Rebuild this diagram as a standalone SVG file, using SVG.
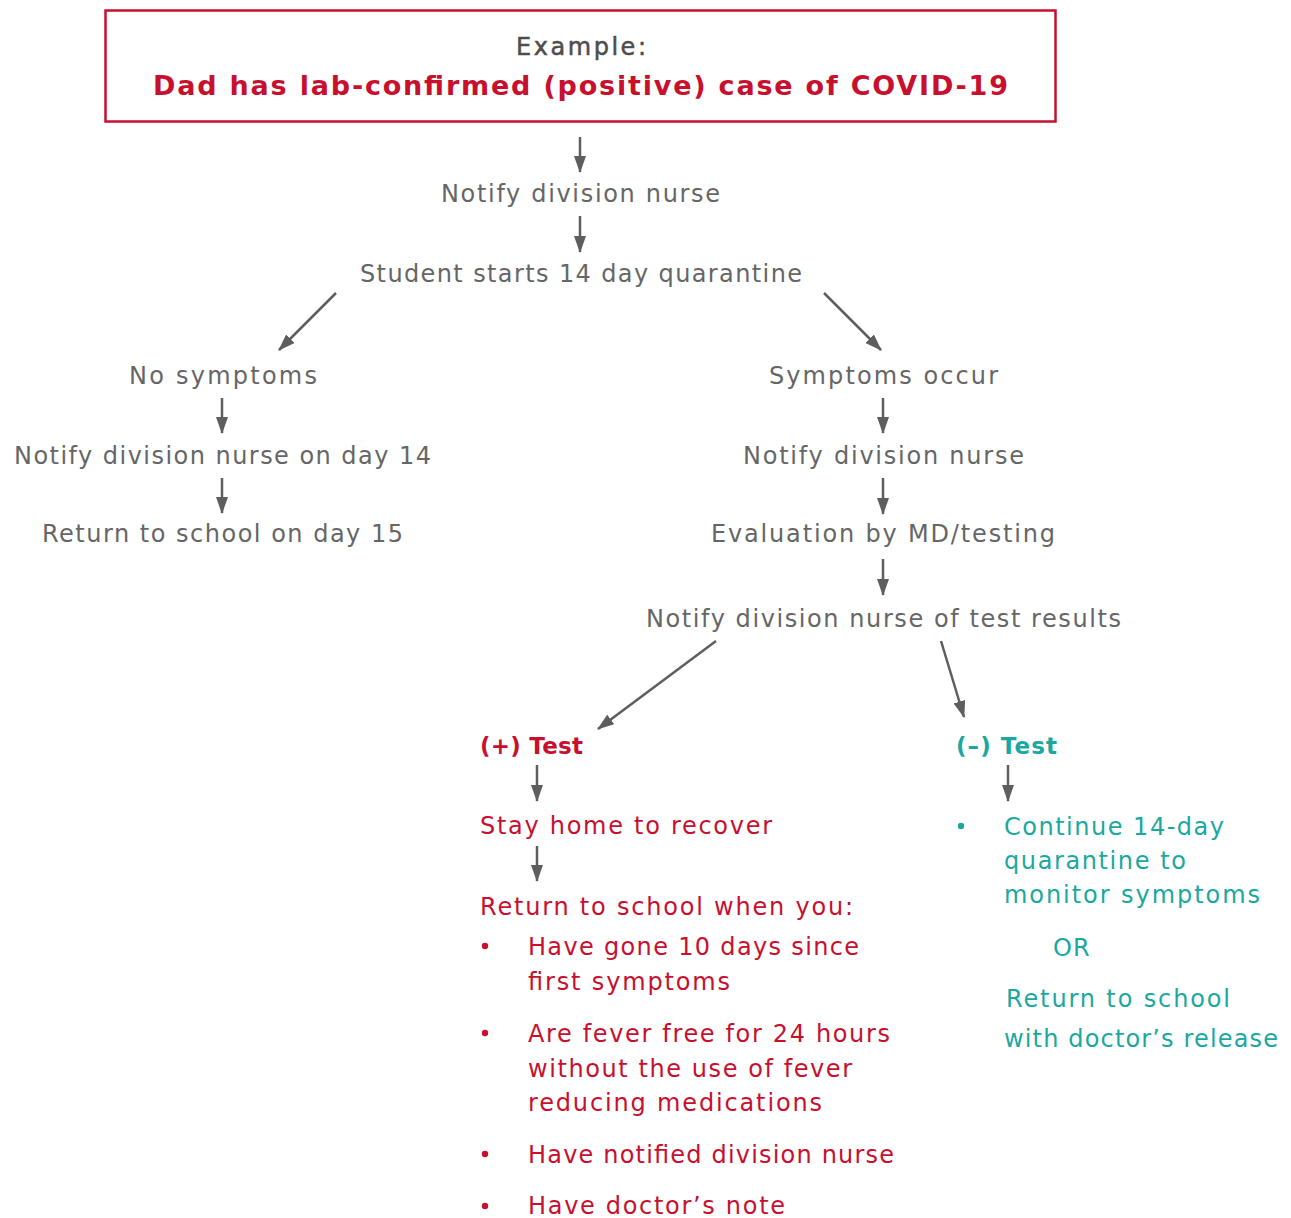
<svg xmlns="http://www.w3.org/2000/svg" width="1291" height="1218" viewBox="0 0 1291 1218">
<style>
.g{font-family:"DejaVu Sans","Liberation Sans",sans-serif;font-size:24px;fill:#666666}
.r{font-family:"DejaVu Sans","Liberation Sans",sans-serif;font-size:24px;fill:#c8102e}
.t{font-family:"DejaVu Sans","Liberation Sans",sans-serif;font-size:24px;fill:#1aa8a0}
.rb{font-family:"DejaVu Sans","Liberation Sans",sans-serif;font-weight:bold;font-size:27px;fill:#c8102e}
.hb{font-family:"DejaVu Sans","Liberation Sans",sans-serif;font-weight:bold;font-size:23px}
.ex{font-family:"DejaVu Sans","Liberation Sans",sans-serif;font-size:24px;fill:#4d4d4d;stroke:#4d4d4d;stroke-width:0.5}
.c{text-anchor:middle}
.a{stroke:#5e5e5e;stroke-width:2.5;fill:none;marker-end:url(#ah)}
</style>
<defs>
<marker id="ah" markerUnits="userSpaceOnUse" markerWidth="17" markerHeight="12" refX="16" refY="6" orient="auto">
<path d="M0,0 L17,6 L0,12 Z" fill="#5e5e5e"/>
</marker>
</defs>
<rect width="1291" height="1218" fill="#ffffff"/>

<g id="connectors">
<line class="a" x1="580" y1="137" x2="580" y2="172"/>
<line class="a" x1="580" y1="216" x2="580" y2="252"/>
<line class="a" x1="336" y1="293" x2="279" y2="350"/>
<line class="a" x1="824" y1="293" x2="881" y2="350"/>
<line class="a" x1="222" y1="398" x2="222" y2="433"/>
<line class="a" x1="222" y1="478" x2="222" y2="513"/>
<line class="a" x1="883" y1="398" x2="883" y2="433"/>
<line class="a" x1="883" y1="478" x2="883" y2="514"/>
<line class="a" x1="883" y1="559" x2="883" y2="595"/>
<line class="a" x1="716" y1="641" x2="598" y2="729"/>
<line class="a" x1="941" y1="641" x2="964" y2="717"/>
<line class="a" x1="537" y1="765" x2="537" y2="801"/>
<line class="a" x1="537" y1="846" x2="537" y2="881"/>
<line class="a" x1="1008" y1="765" x2="1008" y2="801"/>
</g>

<g id="start">
<rect x="105.5" y="10.5" width="950" height="111" fill="none" stroke="#c8102e" stroke-width="2.5"/>
<text class="ex c" x="581" y="55" textLength="130" lengthAdjust="spacing">Example:</text>
<text class="rb c" x="580.5" y="95" textLength="855" lengthAdjust="spacing">Dad has lab-confirmed (positive) case of COVID-19</text>
</g>

<g id="notify1"><text class="g" x="441" y="202" textLength="279" lengthAdjust="spacing">Notify division nurse</text></g>
<g id="quarantine"><text class="g" x="360" y="282" textLength="442" lengthAdjust="spacing">Student starts 14 day quarantine</text></g>

<g id="nosymptoms"><text class="g" x="129" y="384" textLength="188" lengthAdjust="spacing">No symptoms</text></g>
<g id="notify14"><text class="g" x="14" y="464" textLength="417" lengthAdjust="spacing">Notify division nurse on day 14</text></g>
<g id="return15"><text class="g" x="42" y="542" textLength="361" lengthAdjust="spacing">Return to school on day 15</text></g>

<g id="symptoms"><text class="g" x="769" y="384" textLength="229" lengthAdjust="spacing">Symptoms occur</text></g>
<g id="notify2"><text class="g" x="743" y="464" textLength="281" lengthAdjust="spacing">Notify division nurse</text></g>
<g id="evaluation"><text class="g" x="711" y="542" textLength="344" lengthAdjust="spacing">Evaluation by MD/testing</text></g>
<g id="results"><text class="g" x="646" y="627" textLength="475" lengthAdjust="spacing">Notify division nurse of test results</text></g>

<g id="postest"><text class="hb" x="480" y="754" fill="#c8102e" textLength="103" lengthAdjust="spacing">(+) Test</text></g>
<g id="stayhome"><text class="r" x="480" y="834" textLength="292" lengthAdjust="spacing">Stay home to recover</text></g>
<g id="returnwhen">
<text class="r" x="480" y="915" textLength="373" lengthAdjust="spacing">Return to school when you:</text>
<circle cx="485" cy="946" r="3.2" fill="#c8102e"/>
<text class="r" x="528" y="955" textLength="331" lengthAdjust="spacing">Have gone 10 days since</text>
<text class="r" x="528" y="990" textLength="202" lengthAdjust="spacing">first symptoms</text>
<circle cx="485" cy="1033" r="3.2" fill="#c8102e"/>
<text class="r" x="528" y="1042" textLength="362" lengthAdjust="spacing">Are fever free for 24 hours</text>
<text class="r" x="528" y="1077" textLength="324" lengthAdjust="spacing">without the use of fever</text>
<text class="r" x="528" y="1111" textLength="294" lengthAdjust="spacing">reducing medications</text>
<circle cx="485" cy="1154" r="3.2" fill="#c8102e"/>
<text class="r" x="528" y="1163" textLength="366" lengthAdjust="spacing">Have notified division nurse</text>
<circle cx="485" cy="1206" r="3.2" fill="#c8102e"/>
<text class="r" x="528" y="1214" textLength="257" lengthAdjust="spacing">Have doctor’s note</text>
</g>

<g id="negtest"><text class="hb" x="956" y="754" fill="#1aa8a0" textLength="101" lengthAdjust="spacing">(–) Test</text></g>
<g id="continue">
<circle cx="961" cy="826" r="3.2" fill="#1aa8a0"/>
<text class="t" x="1004" y="835" textLength="220" lengthAdjust="spacing">Continue 14-day</text>
<text class="t" x="1004" y="869" textLength="182" lengthAdjust="spacing">quarantine to</text>
<text class="t" x="1004" y="903" textLength="256" lengthAdjust="spacing">monitor symptoms</text>
<text class="t" x="1053" y="956" style="letter-spacing:1px">OR</text>
<text class="t" x="1006" y="1007" textLength="224" lengthAdjust="spacing">Return to school</text>
<text class="t" x="1004" y="1047" textLength="274" lengthAdjust="spacing">with doctor’s release</text>
</g>
</svg>
